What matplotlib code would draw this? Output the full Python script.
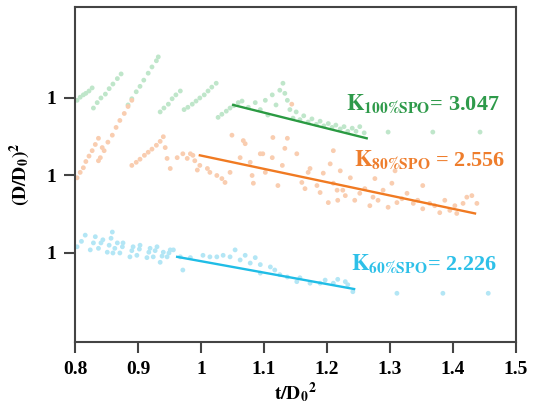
import numpy as np
import matplotlib
matplotlib.use('Agg')
from matplotlib import pyplot as plt

plt.rcParams['font.family'] = ['Liberation Serif', 'DejaVu Serif']
plt.rcParams['mathtext.fontset'] = 'stix'

# (D/D0)^2 values, each series sits on its own offset
green_x = [0.803, 0.808, 0.813, 0.817, 0.822, 0.827,
           0.829, 0.835, 0.841, 0.848, 0.854, 0.860, 0.867, 0.873,
           0.884, 0.890, 0.897, 0.903, 0.909, 0.916, 0.922, 0.929, 0.932,
           0.935, 0.941, 0.948, 0.954, 0.960, 0.967,
           0.973, 0.979, 0.986, 0.992, 0.998, 1.005, 1.011, 1.017, 1.024,
           1.027, 1.033, 1.040, 1.046, 1.052, 1.059, 1.065,
           1.075, 1.086, 1.094, 1.102, 1.106, 1.113, 1.119, 1.125, 1.130, 1.133,
           1.137, 1.141, 1.146, 1.151, 1.157, 1.163, 1.170, 1.176, 1.183, 1.189,
           1.195, 1.202, 1.208, 1.214, 1.221, 1.227, 1.233, 1.240, 1.246, 1.252,
           1.259, 1.297, 1.368, 1.443]
green_y = [0.97, 1.01, 1.04, 1.06, 1.09, 1.13,
           0.87, 0.94, 1.00, 1.05, 1.12, 1.18, 1.25, 1.31,
           0.91, 0.99, 1.08, 1.15, 1.23, 1.32, 1.40, 1.48, 1.53,
           0.82, 0.87, 0.92, 0.99, 1.04, 1.09,
           0.85, 0.88, 0.92, 0.96, 1.00, 1.04, 1.09, 1.14, 1.19,
           0.75, 0.79, 0.83, 0.87, 0.90, 0.94, 0.96,
           0.88, 0.94, 0.85, 0.97, 0.78, 1.04, 0.91, 1.10, 1.19, 1.06,
           0.97, 0.85, 0.74, 0.82, 0.72, 0.77, 0.69, 0.73, 0.66, 0.70,
           0.64, 0.67, 0.62, 0.65, 0.60, 0.63, 0.57, 0.61, 0.57, 0.63,
           0.55, 0.56, 0.56, 0.56]

orange_x = [0.803, 0.808, 0.813, 0.817, 0.822, 0.827, 0.832, 0.837, 0.837, 0.843,
            0.840, 0.846, 0.852, 0.859, 0.865, 0.871, 0.878, 0.884, 0.890,
            0.890, 0.897, 0.903, 0.910, 0.916, 0.922, 0.929, 0.935, 0.940,
            0.943, 0.946, 0.951, 0.962, 0.971, 0.978, 0.983, 0.987, 0.990, 0.994,
            0.998, 1.010, 1.014, 1.025, 1.033, 1.038, 1.046, 1.049, 1.062, 1.067,
            1.070, 1.078, 1.081, 1.083, 1.094, 1.098, 1.102, 1.113, 1.114, 1.122,
            1.129, 1.133, 1.137, 1.144, 1.152, 1.160, 1.165, 1.170, 1.173, 1.184,
            1.189, 1.194, 1.202, 1.205, 1.210, 1.210, 1.216, 1.217, 1.221, 1.225,
            1.229, 1.237, 1.244, 1.252, 1.260, 1.268, 1.273, 1.276, 1.281, 1.289,
            1.297, 1.303, 1.308, 1.311, 1.319, 1.327, 1.337, 1.344, 1.352, 1.352,
            1.363, 1.371, 1.379, 1.387, 1.395, 1.403, 1.406, 1.416, 1.422, 1.430,
            1.438]
orange_y = [0.97, 1.04, 1.10, 1.18, 1.25, 1.32, 1.40, 1.48, 1.19, 1.36,
            1.23, 1.32, 1.43, 1.52, 1.62, 1.71, 1.80, 1.89, 1.97,
            1.13, 1.17, 1.21, 1.26, 1.30, 1.34, 1.39, 1.44, 1.50,
            1.36, 1.22, 1.09, 1.23, 1.28, 1.22, 1.28, 1.26, 1.19, 1.07,
            1.13, 1.09, 1.04, 1.00, 0.96, 0.91, 1.04, 1.52, 1.23, 1.45,
            1.41, 1.17, 1.00, 0.90, 1.28, 1.28, 1.04, 1.23, 1.49, 0.87,
            1.13, 1.35, 1.48, 1.92, 1.28, 0.91, 0.83, 1.04, 1.09, 0.87,
            0.78, 1.03, 0.65, 1.15, 1.32, 0.90, 0.81, 0.68, 1.06, 0.81,
            0.74, 0.97, 0.68, 0.77, 0.83, 0.61, 0.72, 0.96, 0.68, 0.81,
            0.59, 0.90, 1.06, 0.65, 0.70, 0.77, 0.64, 0.68, 0.57, 0.87,
            0.64, 0.61, 0.52, 0.68, 0.55, 0.61, 0.51, 0.64, 0.72, 0.74,
            0.64]

cyan_x = [0.803, 0.810, 0.816, 0.824, 0.829, 0.832, 0.837, 0.841, 0.844,
          0.851, 0.854, 0.857, 0.859, 0.860, 0.863, 0.867, 0.871, 0.875, 0.876,
          0.887, 0.890, 0.892, 0.898, 0.902, 0.903, 0.914, 0.917, 0.919,
          0.924, 0.927, 0.930, 0.935, 0.938, 0.940, 0.946, 0.949, 0.951,
          0.956, 0.971, 0.967, 0.983, 1.003, 1.014, 1.025, 1.035, 1.046,
          1.054, 1.062, 1.070, 1.078, 1.086, 1.094, 1.094, 1.110, 1.117,
          1.125, 1.137, 1.152, 1.157, 1.173, 1.189, 1.197, 1.210, 1.217,
          1.229, 1.233, 1.241, 1.311, 1.384, 1.456]
cyan_y = [1.08, 1.15, 1.23, 1.04, 1.13, 1.21, 1.06, 1.13, 1.17,
          1.01, 1.10, 1.19, 1.27, 1.00, 1.06, 1.13, 1.00, 1.08, 1.13,
          0.95, 1.03, 1.08, 0.97, 1.05, 1.10, 0.94, 1.01, 1.06,
          0.95, 1.03, 1.08, 0.88, 0.96, 1.01, 0.95, 1.00, 1.04,
          1.04, 0.78, 0.95, 0.94, 0.97, 0.95, 0.95, 0.97, 0.95,
          1.04, 0.91, 0.97, 0.87, 0.94, 0.85, 0.74, 0.82, 0.78,
          0.72, 0.69, 0.63, 0.68, 0.61, 0.61, 0.65, 0.61, 0.66,
          0.63, 0.59, 0.50, 0.48, 0.48, 0.48]

# fitted lines (end points)
green_fit_x = [1.051, 1.263]
green_fit_y = [0.91, 0.48]
orange_fit_x = [0.998, 1.435]
orange_fit_y = [1.26, 0.51]
cyan_fit_x = [0.962, 1.243]
cyan_fit_y = [0.95, 0.535]

offsets = [2, 1, 0]
k_labels = [r'$\mathbf{K}_{\mathbf{100\%SPO}}$= 3.047',
            r'$\mathbf{K}_{\mathbf{80\%SPO}}$ = 2.556',
            r'$\mathbf{K}_{\mathbf{60\%SPO}}$= 2.226']
x_ticks = [0.8, 0.9, 1.0, 1.1, 1.2, 1.3, 1.4, 1.5]
x_ticklabels = ['0.8', '0.9', '1', '1.1', '1.2', '1.3', '1.4', '1.5']

fig = plt.figure(figsize=(5.33, 4.11), dpi=100)
ax = fig.add_axes([0.141, 0.168, 0.827, 0.815])

series = [(green_x, green_y, green_fit_x, green_fit_y, '#bfe6ca', '#2a9a42', '#2e9a4a'),
          (orange_x, orange_y, orange_fit_x, orange_fit_y, '#f9cdb0', '#f07a22', '#ee7d2c'),
          (cyan_x, cyan_y, cyan_fit_x, cyan_fit_y, '#b3e6f5', '#20bde6', '#2ec0e8')]
text_pos = [(1.230, 2.923), (1.243, 2.20), (1.238, 0.858)]

for (sx, sy, fx, fy, pc, lc, tc), off, lab, tp in zip(series, offsets, k_labels, text_pos):
    ax.scatter(sx, np.array(sy) + off, s=12, color=pc, edgecolors='none', zorder=2)
    ax.plot(fx, np.array(fy) + off, color=lc, lw=1.7, zorder=3)
    ax.text(tp[0], tp[1], lab, color=tc, fontsize=16, fontweight='bold', va='center')

ax.set_xlim(0.8, 1.5)
ax.set_ylim(-0.148, 4.174)
ax.set_xticks(x_ticks)
ax.set_xticklabels(x_ticklabels)
ax.set_yticks([1, 2, 3])
ax.set_yticklabels(['1', '1', '1'])
for lbl in ax.get_xticklabels() + ax.get_yticklabels():
    lbl.set_fontweight('bold')
    lbl.set_fontsize(14)
ax.tick_params(direction='out', length=8, width=1.5, color='#444444', pad=6)

for sp in ax.spines.values():
    sp.set_color('#444444')
    sp.set_linewidth(1.5)

ax.set_xlabel(r'$\mathbf{t/D_0}^{\mathbf{2}}$', fontsize=14, labelpad=1)
ax.set_ylabel(r'$\mathbf{(D/D_0)}^{\mathbf{2}}$', fontsize=14, labelpad=10)

plt.savefig('out.png', dpi=100)
